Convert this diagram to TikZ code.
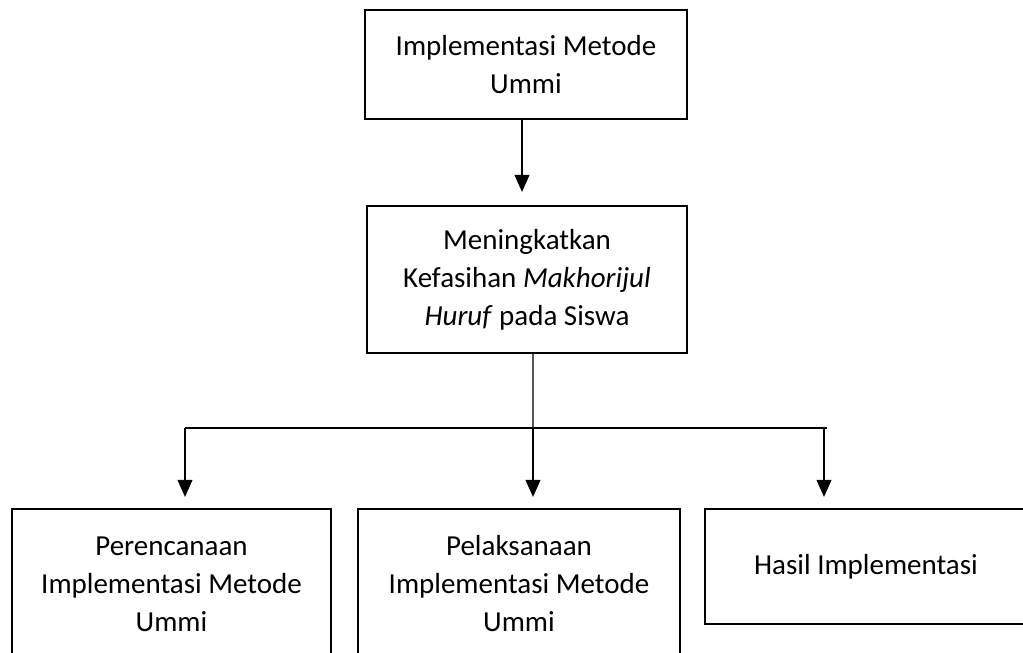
\documentclass[tikz,border=0pt]{standalone}
\usepackage{fontspec}
\setmainfont{Carlito}
\usepackage{tikz}
\usetikzlibrary{arrows.meta,positioning,calc}
\tikzset{blok/.style={draw=black, line width=1.3pt, align=center, inner sep=2pt,
    font=\fontsize{16.5}{21.6}\selectfont}}
\tikzset{conn/.style={line width=0.6pt, -{Triangle[width=0.30cm,length=0.34cm]}, shorten >=0.22cm}}

\begin{document}
\begin{tikzpicture}
\useasboundingbox (0,0) rectangle (20.46,13.06);

\node[blok, minimum width=6.44cm, minimum height=2.18cm] (atas) at (10.52,11.77) {Implementasi Metode\\Ummi};
\node[blok, minimum width=6.40cm, minimum height=2.94cm] (tengah) at (10.54,7.47) {Meningkatkan\\Kefasihan \textit{Makhorijul}\\\textit{Huruf} pada Siswa};

\node[blok, minimum width=6.38cm, minimum height=3.00cm] (rencana) at (3.43,1.38) {Perencanaan\\Implementasi Metode\\Ummi};
\node[blok, minimum width=6.44cm, minimum height=3.00cm] (laksana) at (10.38,1.38) {Pelaksanaan\\Implementasi Metode\\Ummi};
\node[blok, minimum width=6.44cm, minimum height=2.30cm] (hasil) at (17.32,1.73) {Hasil Implementasi};

\coordinate (cabangkiri) at (3.70,4.50);
\coordinate (cabangtengah) at (10.66,4.50);
\coordinate (cabangkanan) at (16.48,4.50);
\coordinate (ujungkanan) at (16.54,4.50);

\draw[conn, shorten >=0.26cm] ([xshift=-0.08cm]atas.south) -- ([xshift=-0.08cm]atas.south |- tengah.north);

\draw[line width=0.6pt] ([xshift=0.12cm]tengah.south) -- (cabangtengah);
\draw[line width=0.6pt] (cabangkiri) -- (ujungkanan);

\draw[conn] (cabangkiri) -- (cabangkiri |- rencana.north);
\draw[conn] (cabangtengah) -- (cabangtengah |- laksana.north);
\draw[conn] (cabangkanan) -- (cabangkanan |- hasil.north);

\end{tikzpicture}
\end{document}
